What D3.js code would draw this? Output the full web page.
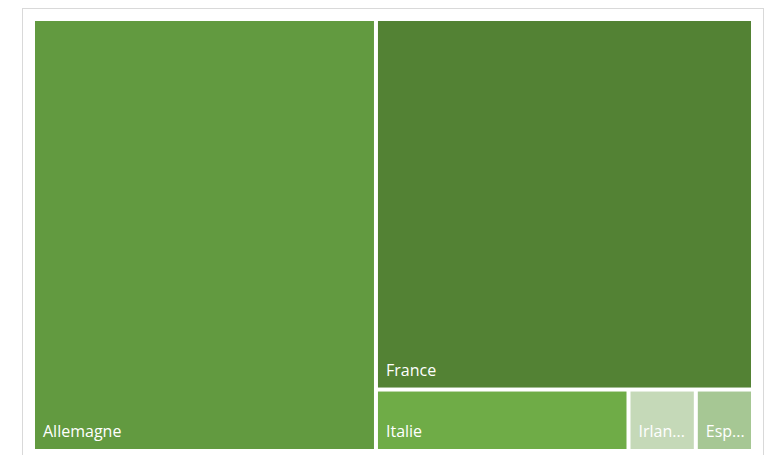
<!DOCTYPE html>
<html>
<head>
<meta charset="utf-8">
<script src="https://cdn.jsdelivr.net/npm/d3@7"></script>
<style>
  body { margin: 0; background: #fff; }
  svg { display: block; font-family: "Open Sans", sans-serif; }
</style>
</head>
<body>
<div id="chart"></div>
<script>
var width = 772, height = 455;

// values (area shares, %)
var countries = ["Allemagne", "France", "Italie", "Irlande", "Espagne"];
var values = [47.63, 44.91, 4.99, 1.33, 1.13];
var colors = ["#629A40", "#538234", "#6FAC47", "#C5D9B8", "#A6C794"];

var svg = d3.select("#chart").append("svg").attr("width", width).attr("height", height);

// outer chart frame
svg.append("rect")
  .attr("x", 22.5).attr("y", 8.5).attr("width", 741).attr("height", 460)
  .attr("fill", "#fff").attr("stroke", "#D9D9D9").attr("stroke-width", 1);

var data = { name: "root", children: countries.map(function(c, i) { return { name: c, value: values[i], color: colors[i] }; }) };

var root = d3.hierarchy(data).sum(function(d) { return d.value; });

d3.treemap()
  .tile(d3.treemapSquarify.ratio(1))
  .size([716, 428])
  .paddingInner(4)
  (root);

var g = svg.append("g").attr("transform", "translate(35,21)");

var cell = g.selectAll("g").data(root.leaves()).enter().append("g")
  .attr("transform", function(d) { return "translate(" + d.x0 + "," + d.y0 + ")"; });

cell.append("rect")
  .attr("width", function(d) { return d.x1 - d.x0; })
  .attr("height", function(d) { return d.y1 - d.y0; })
  .attr("fill", function(d) { return d.data.color; });

cell.append("text")
  .attr("x", 8)
  .attr("y", function(d) { return d.y1 - d.y0 - 12; })
  .attr("fill", "#fff")
  .attr("font-size", "16px")
  .text(function(d) { return d.data.name; })
  .each(function(d) {
    var t = d3.select(this), maxW = d.x1 - d.x0 - 12, s = d.data.name;
    if (this.getComputedTextLength() <= maxW) return;
    while (s.length > 1) {
      s = s.slice(0, -1);
      t.text(s + "...");
      if (this.getComputedTextLength() <= maxW) break;
    }
  });
</script>
</body>
</html>
